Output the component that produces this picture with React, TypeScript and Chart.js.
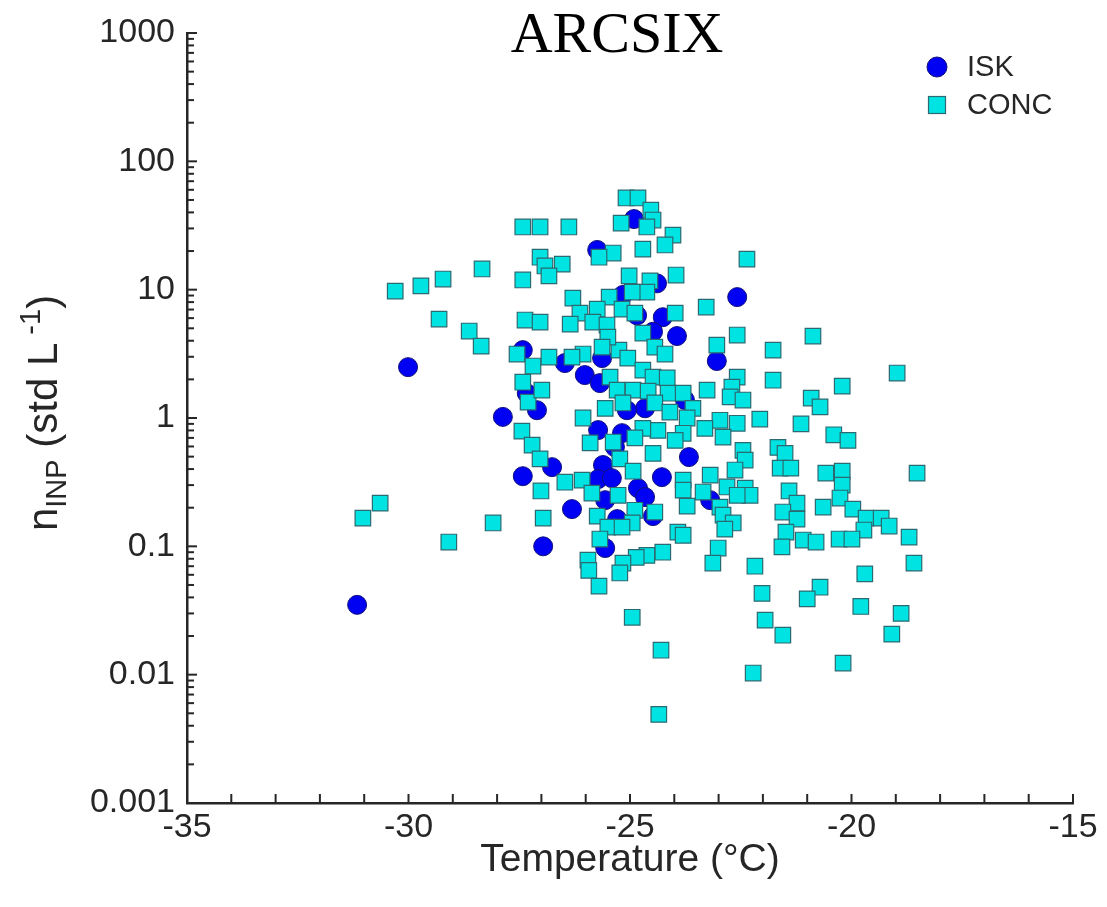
import React, { useEffect, useRef } from 'react';
import { Chart, registerables } from 'chart.js';

Chart.register(...registerables);

// ---- Data (temperature in °C, n_INP in std L^-1) ----
const iskT = [
  -30.01, -31.16, -27.87, -27.42, -27.33, -27.10, -27.42, -26.76, -26.96, -24.91,
  -25.74, -24.39, -25.16, -24.84, -24.26, -24.48, -23.94, -23.04, -22.58, -26.47,
  -26.02, -25.68, -25.63, -25.72, -25.18, -24.66, -25.07, -23.76, -25.34, -25.61,
  -25.72, -25.41, -24.82, -24.66, -24.28, -23.67, -26.31, -25.56, -24.48, -25.29,
  -25.56, -23.19,
];
const iskN = [
  2.49, 0.035, 1.02, 3.38, 1.56, 1.15, 0.352, 0.414, 0.100, 35.5,
  20.4, 11.2, 9.1, 6.3, 6.1, 4.7, 4.35, 2.78, 8.75, 2.68,
  2.16, 1.87, 2.93, 0.805, 0.762, 1.19, 1.15, 1.38, 0.593, 0.43,
  0.334, 0.34, 0.284, 0.242, 0.346, 0.496, 0.195, 0.229, 0.172, 0.163,
  0.097, 0.229,
];

const concT = [
  -27.42, -27.03, -27.03, -28.34, -27.42, -29.22, -29.72, -30.30, -29.31, -28.63,
  -28.36, -27.37, -27.55, -27.19, -27.42, -27.30, -27.44, -27.21, -25.09, -24.82,
  -24.53, -24.48, -25.20, -24.62, -24.03, -24.21, -26.38, -24.71, -25.38, -25.70,
  -26.53, -26.92, -26.83, -22.36, -25.02, -24.55, -23.96, -24.62, -24.95, -26.29,
  -25.47, -25.18, -24.89, -25.74, -26.13, -25.84, -26.35, -25.52, -27.03, -23.98,
  -23.28, -22.58, -23.04, -21.77, -21.77, -24.71, -24.44, -24.21, -25.25, -25.05,
  -25.50, -25.63, -26.06, -26.31, -26.83, -26.99, -25.45, -24.71, -24.48, -24.16,
  -25.29, -24.93, -24.59, -24.14, -23.80, -23.26, -22.58, -22.70, -22.74, -22.45,
  -25.16, -25.56, -24.44, -24.10, -23.58, -23.71, -22.97, -22.58, -22.07, -22.90,
  -22.45, -23.31, -23.80, -24.37, -24.71, -24.89, -26.06, -25.90, -25.38, -23.98,
  -21.66, -27.03, -30.64, -31.03, -29.09, -28.09, -27.01, -26.96, -22.40, -24.48,
  -25.23, -24.93, -26.47, -26.08, -25.86, -25.27, -24.89, -24.95, -24.44, -25.74,
  -25.50, -25.18, -25.68, -23.80, -23.80, -23.71, -23.35, -23.19, -22.81, -22.63,
  -22.40, -22.29, -22.58, -22.97, -22.90, -22.67, -22.86, -23.92, -23.80, -23.01,
  -23.13, -24.26, -24.62, -24.86, -25.16, -25.23, -25.95, -25.93, -25.70, -22.18,
  -22.02, -24.95, -21.95, -20.87, -18.97, -20.21, -20.91, -20.71, -21.14, -20.40,
  -20.08, -21.50, -21.61, -21.37, -20.58, -20.21, -18.52, -20.21, -21.41, -20.26,
  -21.23, -20.64, -19.97, -21.55, -21.23, -19.67, -19.33, -19.15, -19.72, -21.48,
  -21.09, -20.80, -20.28, -19.99, -18.70, -21.57, -18.59, -19.70, -20.71, -21.00,
  -19.79, -18.88, -21.55, -19.09, -24.30, -24.35, -22.22, -20.19,
];
const concN = [
  30.8, 30.8, 17.9, 14.5, 11.9, 12.1, 10.7, 9.75, 5.9, 4.76,
  3.63, 5.8, 3.15, 2.54, 1.90, 1.33, 0.79, 0.615, 51.8, 51.8,
  41.7, 34.9, 33.0, 30.8, 26.6, 22.3, 30.8, 20.7, 19.3, 17.9,
  15.8, 15.3, 12.8, 17.3, 12.8, 11.7, 13.0, 9.58, 9.58, 8.6,
  8.75, 7.06, 6.57, 7.06, 6.57, 5.59, 5.39, 5.30, 5.59, 6.57,
  7.32, 4.43, 3.70, 3.38, 1.97, 4.59, 3.57, 3.15, 3.38, 2.93,
  4.27, 3.57, 3.15, 2.98, 2.98, 1.65, 2.08, 2.36, 2.08, 2.05,
  1.65, 1.65, 1.62, 1.56, 1.56, 1.65, 2.08, 1.74, 1.46, 1.38,
  1.31, 1.19, 1.31, 1.11, 1.19, 1.00, 0.96, 0.91, 0.98, 0.71,
  0.56, 0.83, 0.76, 0.80, 0.83, 0.70, 1.00, 0.64, 0.65, 0.67,
  0.59, 0.48, 0.217, 0.166, 0.108, 0.152, 0.27, 0.166, 0.47, 0.53,
  0.48, 0.385, 0.316, 0.328, 0.26, 0.25, 0.191, 0.152, 0.185, 0.172,
  0.141, 0.141, 0.114, 0.328, 0.274, 0.206, 0.265, 0.359, 0.29, 0.393,
  0.284, 0.25, 0.25, 0.202, 0.175, 0.152, 0.136, 0.129, 0.122, 0.097,
  0.074, 0.090, 0.085, 0.082, 0.074, 0.062, 0.078, 0.065, 0.049, 0.070,
  0.043, 0.028, 0.0266, 4.35, 2.24, 1.77, 1.43, 1.22, 0.90, 0.74,
  0.67, 0.53, 0.407, 0.407, 0.372, 0.385, 0.372, 0.30, 0.27, 0.238,
  0.217, 0.202, 0.195, 0.185, 0.163, 0.166, 0.166, 0.144, 0.134, 0.129,
  0.112, 0.108, 0.114, 0.114, 0.118, 0.099, 0.074, 0.061, 0.048, 0.039,
  0.034, 0.030, 0.0203, 0.0207, 0.0155, 0.0049, 0.0103, 0.0123,
];

const xTickValues = [-35, -30, -25, -20, -15];
const xTickLabels = ['-35', '-30', '-25', '-20', '-15'];
const yTickValues = [0.001, 0.01, 0.1, 1, 10, 100, 1000];
const yTickLabels = ['0.001', '0.01', '0.1', '1', '10', '100', '1000'];
const seriesNames = ['ISK', 'CONC'];
const chartTitle = 'ARCSIX';
const xTitle = 'Temperature (°C)';

const SANS = '"Liberation Sans", Arial, Helvetica, sans-serif';
const SERIF = '"Liberation Serif", "Times New Roman", serif';
const INK = '#262626';
const ISK_FILL = '#0000f2';
const ISK_EDGE = '#10107a';
const CONC_FILL = '#00e3e3';
const CONC_EDGE = '#2a6a70';

export default function App() {
  const ref = useRef<HTMLCanvasElement>(null);

  useEffect(() => {
    const canvas = ref.current;
    if (!canvas) return;

    const decorations = {
      id: 'decorations',
      afterDraw(chart: any) {
        const { ctx, chartArea: a } = chart;
        const xs = chart.scales.x;
        const ys = chart.scales.y;
        ctx.save();

        // inward tick marks
        ctx.strokeStyle = INK;
        ctx.lineWidth = 2;
        for (let v = xs.min; v <= xs.max + 1e-9; v += 1) {
          const px = xs.getPixelForValue(v);
          ctx.beginPath();
          ctx.moveTo(px, a.bottom);
          ctx.lineTo(px, a.bottom - 9);
          ctx.stroke();
        }
        yTickValues.forEach((d, i) => {
          const py = ys.getPixelForValue(d);
          ctx.beginPath();
          ctx.moveTo(a.left, py);
          ctx.lineTo(a.left + 10, py);
          ctx.stroke();
          if (i < yTickValues.length - 1) {
            for (let m = 2; m <= 9; m++) {
              const pm = ys.getPixelForValue(d * m);
              ctx.beginPath();
              ctx.moveTo(a.left, pm);
              ctx.lineTo(a.left + 7, pm);
              ctx.stroke();
            }
          }
        });

        // title
        ctx.fillStyle = '#000';
        ctx.font = `58px ${SERIF}`;
        ctx.textAlign = 'center';
        ctx.textBaseline = 'alphabetic';
        ctx.fillText(chartTitle, (a.left + a.right) / 2 - 13, 52);

        // x axis title
        ctx.fillStyle = INK;
        ctx.font = `39px ${SANS}`;
        ctx.fillText(xTitle, (a.left + a.right) / 2, 871);

        // y axis title: n_INP (std L^-1)
        const segs = [
          { t: 'n', size: 42, dy: 0 },
          { t: 'INP', size: 29, dy: 9 },
          { t: ' (std L', size: 42, dy: 0 },
          { t: ' -1', size: 29, dy: -17 },
          { t: ')', size: 42, dy: 0 },
        ];
        let total = 0;
        segs.forEach((s) => {
          ctx.font = `${s.size}px ${SANS}`;
          total += ctx.measureText(s.t).width;
        });
        ctx.save();
        ctx.translate(57, (a.top + a.bottom) / 2 - 5);
        ctx.rotate(-Math.PI / 2);
        ctx.textAlign = 'left';
        let cx = -total / 2;
        segs.forEach((s) => {
          ctx.font = `${s.size}px ${SANS}`;
          ctx.fillText(s.t, cx, s.dy);
          cx += ctx.measureText(s.t).width;
        });
        ctx.restore();

        // legend
        const lx = a.right - 136;
        const ly1 = a.top + 34;
        const ly2 = a.top + 72;
        ctx.beginPath();
        ctx.arc(lx, ly1, 10, 0, Math.PI * 2);
        ctx.fillStyle = ISK_FILL;
        ctx.fill();
        ctx.lineWidth = 1;
        ctx.strokeStyle = ISK_EDGE;
        ctx.stroke();
        ctx.fillStyle = CONC_FILL;
        ctx.fillRect(lx - 8.5, ly2 - 8.5, 17, 17);
        ctx.strokeStyle = CONC_EDGE;
        ctx.lineWidth = 1.2;
        ctx.strokeRect(lx - 8.5, ly2 - 8.5, 17, 17);
        ctx.fillStyle = INK;
        ctx.font = `29px ${SANS}`;
        ctx.textAlign = 'left';
        ctx.textBaseline = 'middle';
        ctx.fillText(seriesNames[0], a.right - 106, ly1 + 1);
        ctx.fillText(seriesNames[1], a.right - 106, ly2 + 1);

        ctx.restore();
      },
    };

    const chart = new Chart(canvas, {
      type: 'scatter',
      data: {
        datasets: [
          {
            label: seriesNames[0],
            data: iskT.map((t, i) => ({ x: t, y: iskN[i] })),
            pointStyle: 'circle',
            pointRadius: 9.5,
            backgroundColor: ISK_FILL,
            borderColor: ISK_EDGE,
            borderWidth: 1,
            order: 2,
          },
          {
            label: seriesNames[1],
            data: concT.map((t, i) => ({ x: t, y: concN[i] })),
            pointStyle: 'rect',
            pointRadius: 11,
            backgroundColor: CONC_FILL,
            borderColor: CONC_EDGE,
            borderWidth: 1.2,
            order: 1,
          },
        ],
      },
      options: {
        responsive: false,
        animation: false,
        devicePixelRatio: 1,
        events: [],
        layout: { padding: { left: 0, top: 33, right: 34, bottom: 0 } },
        plugins: {
          legend: { display: false },
          tooltip: { enabled: false },
          title: { display: false },
        },
        scales: {
          x: {
            type: 'linear',
            min: -35,
            max: -15,
            afterBuildTicks: (s: any) => {
              s.ticks = xTickValues.map((v) => ({ value: v }));
            },
            afterFit: (s: any) => {
              s.height = 104;
            },
            grid: { display: true, drawOnChartArea: false, drawTicks: false },
            border: { display: true, color: INK, width: 2.5 },
            ticks: {
              callback: (_v: any, i: number) => xTickLabels[i],
              autoSkip: false,
              maxRotation: 0,
              color: INK,
              padding: 4,
              font: { family: SANS, size: 34 },
            },
          },
          y: {
            type: 'logarithmic',
            min: 0.001,
            max: 1000,
            afterBuildTicks: (s: any) => {
              s.ticks = yTickValues.map((v) => ({ value: v }));
            },
            afterFit: (s: any) => {
              s.width = 187;
            },
            grid: { display: true, drawOnChartArea: false, drawTicks: false },
            border: { display: true, color: INK, width: 2.5 },
            ticks: {
              callback: (_v: any, i: number) => yTickLabels[i],
              autoSkip: false,
              color: INK,
              padding: 12,
              font: { family: SANS, size: 34 },
            },
          },
        },
      },
      plugins: [decorations],
    } as any);

    return () => chart.destroy();
  }, []);

  return (
    <div style={{ position: 'absolute', left: 0, top: 0, width: 1107, height: 907, background: '#fff' }}>
      <canvas ref={ref} width={1107} height={907} style={{ display: 'block' }} />
    </div>
  );
}
